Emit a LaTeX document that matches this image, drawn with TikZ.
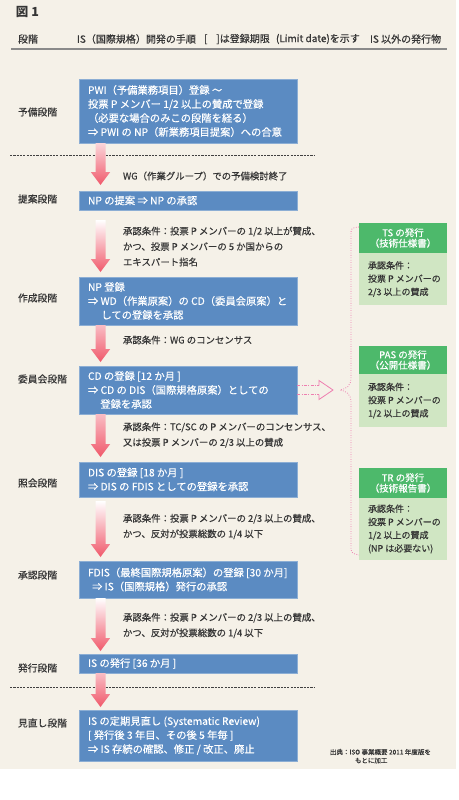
\documentclass[tikz,border=0pt]{standalone}
\usepackage{fontspec}
\setmainfont{Noto Sans CJK JP}[UprightFeatures={FakeBold=0.35}]
\usetikzlibrary{calc}
\definecolor{beige}{HTML}{F5F1E8}
\definecolor{boxblue}{HTML}{5B8BC2}
\definecolor{ghead}{HTML}{4DB96B}
\definecolor{gbody}{HTML}{D0E6C3}
\definecolor{arrred}{HTML}{F0596B}
\definecolor{pinkline}{HTML}{EE7FB0}
\definecolor{txt}{HTML}{353535}
\definecolor{sepgray}{HTML}{8A8A8A}
\newcommand\FatArr[3]{%
  \shade[top color=#3, bottom color=arrred]
    let \p1=#1, \p2=#2 in
    (\x1-5pt,\y1) -- (\x1+5pt,\y1) -- (\x1+5pt,\y2+13pt) -- (\x1+9.7pt,\y2+13pt)
    -- (\x1,\y2) -- (\x1-9.7pt,\y2+13pt) -- (\x1-5pt,\y2+13pt) -- cycle;}
\begin{document}
\begin{tikzpicture}[x=1pt,y=-1pt,
  every node/.style={inner sep=0pt, outer sep=0pt, text=txt},
  bluebox/.style={fill=boxblue, draw=boxblue!70!white, line width=0.5pt, minimum width=218pt, anchor=north west},
  boxtext/.style={anchor=west, align=left, text=white, font=\fontsize{10.3}{14}\selectfont},
  stagelabel/.style={anchor=west, font=\fontsize{9.8}{11}\selectfont},
  cond/.style={anchor=west, align=left, font=\fontsize{9.4}{15.5}\selectfont},
  headtext/.style={anchor=west, font=\fontsize{10}{11}\selectfont},
  ghbox/.style={fill=ghead, minimum width=88pt, anchor=north west, align=center, text=white, font=\fontsize{9.5}{10.5}\selectfont},
  gbbox/.style={fill=gbody, minimum width=88pt, anchor=north west},
  gtext/.style={anchor=west, align=left, font=\fontsize{9}{13.2}\selectfont},
  sepline/.style={draw=black!75, line width=0.7pt, dash pattern=on 2.2pt off 1.1pt},
  pinkdd/.style={draw=pinkline, line width=0.8pt, dash pattern=on 3pt off 1.5pt on 0.8pt off 1.5pt},
  pinkdot/.style={draw=pinkline, line width=0.8pt, dash pattern=on 0.8pt off 1.6pt}
]
\useasboundingbox (0,0) rectangle (458,800);
\fill[white] (0,0) rectangle (458,800);
\fill[beige] (0,0) rectangle (456,769);

% title and header
\node[anchor=west, font=\bfseries\fontsize{12.5}{13}\selectfont] (title) at (16,12) {図 1};
\node[headtext] (hd1) at (18,39) {段階};
\node[headtext] (hd2) at (77,39) {IS（国際規格）開発の手順};
\node[headtext] (hd3) at (204,39) {[\hspace{0.9em}]は登録期限};
\node[headtext] (hd3b) at (276,39) {(Limit date)を示す};
\node[headtext] (hd4) at (370,39) {IS 以外の発行物};
\draw[sepgray, line width=1.4pt] (11,49) -- (447,49);

% separators
\draw[sepline] (10,155) -- (315,155);
\draw[sepline] (10,687) -- (315,687);

% blue boxes
\node[bluebox, minimum height=64pt] (b1) at (79,79) {};
\node[bluebox, minimum height=19pt] (b2) at (79,191) {};
\node[bluebox, minimum height=48pt] (b3) at (79,277) {};
\node[bluebox, minimum height=48pt] (b4) at (79,366) {};
\node[bluebox, minimum height=35pt] (b5) at (79,462) {};
\node[bluebox, minimum height=37pt] (b6) at (79,561) {};
\node[bluebox, minimum height=19pt] (b7) at (79,654) {};
\node[bluebox, minimum height=51pt] (b8) at (79,710) {};

\node[boxtext] (t1) at ($(b1.west)+(9,0)$) {PWI（予備業務項目）登録 ～\\投票 P メンバー 1/2 以上の賛成で登録\\（必要な場合のみこの段階を経る）\\⇒ PWI の NP（新業務項目提案）への合意};
\node[boxtext] (t2) at ($(b2.west)+(9,0)$) {NP の提案 ⇒ NP の承認};
\node[boxtext] (t3) at ($(b3.west)+(9,0)$) {NP 登録\\⇒ WD（作業原案）の CD（委員会原案）と\\\hspace*{1.3em}しての登録を承認};
\node[boxtext] (t4) at ($(b4.west)+(9,0)$) {CD の登録 [12 か月 ]\\⇒ CD の DIS（国際規格原案）としての\\\hspace*{1.2em}登録を承認};
\node[boxtext] (t5) at ($(b5.west)+(9,0)$) {DIS の登録 [18 か月 ]\\⇒ DIS の FDIS としての登録を承認};
\node[boxtext] (t6) at ($(b6.west)+(9,0)$) {FDIS（最終国際規格原案）の登録 [30 か月]\\\hspace*{0.4em}⇒ IS（国際規格）発行の承認};
\node[boxtext] (t7) at ($(b7.west)+(9,0)$) {IS の発行 [36 か月 ]};
\node[boxtext] (t8) at ($(b8.west)+(9,0)$) {IS の定期見直し (Systematic Review)\\{}[ 発行後 3 年目、その後 5 年毎 ]\\⇒ IS 存続の確認、修正 / 改正、廃止};

% stage labels
\node[stagelabel] (s1) at (18,112) {予備段階};
\node[stagelabel] (s2) at (18,199) {提案段階};
\node[stagelabel] (s3) at (18,298) {作成段階};
\node[stagelabel] (s4) at (18,379) {委員会段階};
\node[stagelabel] (s5) at (18,483) {照会段階};
\node[stagelabel] (s6) at (18,575) {承認段階};
\node[stagelabel] (s7) at (18,668) {発行段階};
\node[stagelabel] (s8) at (18,723) {見直し段階};

% arrows
\coordinate (ax) at (100.5,0);
\FatArr{(b1.south -| ax)}{($(b2.north -| ax)+(0,-6)$)}{arrred!25!white}
\FatArr{($(b2.south -| ax)+(0,10)$)}{($(b3.north -| ax)+(0,-5)$)}{white}
\FatArr{(b3.south -| ax)}{($(b4.north -| ax)+(0,-4)$)}{arrred!40!white}
\FatArr{(b4.south -| ax)}{($(b5.north -| ax)+(0,-5)$)}{arrred!40!white}
\FatArr{($(b5.south -| ax)+(0,4)$)}{($(b6.north -| ax)+(0,-4)$)}{white}
\FatArr{(b6.south -| ax)}{($(b7.north -| ax)+(0,-3)$)}{white}
\FatArr{(b7.south -| ax)}{($(b8.north -| ax)+(0,-3)$)}{arrred!40!white}

% conditions
\node[cond] (c1) at (123,176) {WG（作業グループ）での予備検討終了};
\node[cond] (c2) at (123,246.5) {承認条件：投票 P メンバーの 1/2 以上が賛成、\\かつ、投票 P メンバーの 5 か国からの\\エキスパート指名};
\node[cond] (c3) at (123,340) {承認条件：WG のコンセンサス};
\node[cond] (c4) at (123,435) {承認条件：TC/SC の P メンバーのコンセンサス、\\又は投票 P メンバーの 2/3 以上の賛成};
\node[cond] (c5) at (123,526.5) {承認条件：投票 P メンバーの 2/3 以上の賛成、\\かつ、反対が投票総数の 1/4 以下};
\node[cond] (c6) at (123,625.5) {承認条件：投票 P メンバーの 2/3 以上の賛成、\\かつ、反対が投票総数の 1/4 以下};

% green boxes
\node[ghbox, minimum height=30pt] (tsh) at (359,223) {TS の発行\\（技術仕様書）};
\node[gbbox, minimum height=52pt] (tsb) at (359,253) {};
\node[gtext] (tst) at ($(tsb.west)+(9,0)$) {承認条件：\\投票 P メンバーの\\2/3 以上の賛成};
\node[ghbox, minimum height=28pt] (pash) at (359,346) {PAS の発行\\（公開仕様書）};
\node[gbbox, minimum height=53pt] (pasb) at (359,374) {};
\node[gtext] (past) at ($(pasb.west)+(9,0)$) {承認条件：\\投票 P メンバーの\\1/2 以上の賛成};
\node[ghbox, minimum height=30pt] (trh) at (359,468) {TR の発行\\（技術報告書）};
\node[gbbox, minimum height=62pt] (trb) at (359,498) {};
\node[gtext] (trt) at ($(trb.west)+(9,0)$) {承認条件：\\投票 P メンバーの\\1/2 以上の賛成\\(NP は必要ない)};

% pink hollow arrow and brace
\coordinate (ht) at (333,390);
\coordinate (bt) at (340,390);
\draw[pinkdd] ($(b4.east)+(0,-4.5)$) -- ($(ht)+(-14,-4.5)$);
\draw[pinkdd] ($(b4.east)+(0,4.5)$) -- ($(ht)+(-14,4.5)$);
\draw[pinkline, line width=0.8pt, line join=miter] ($(ht)+(-14,-4.5)$) -- ($(ht)+(-14,-9.5)$) -- (ht) -- ($(ht)+(-14,9.5)$) -- ($(ht)+(-14,4.5)$);
\draw[pinkdot] ($(tsh.north west)+(0,4)$) .. controls (351,228) .. (351,236) -- (351,378)
  .. controls (351,386) and (346,389) .. (bt)
  .. controls (346,391) and (351,394) .. (351,402) -- (351,546)
  .. controls (351,553) .. ($(trb.south west)+(0,-5)$);

% footnote
\node[anchor=west, font=\fontsize{6.5}{8}\selectfont] (f1) at (330,752) {出典：ISO 事業概要 2011 年度版を};
\node[anchor=west, font=\fontsize{6.5}{8}\selectfont] (f2) at (355,760.5) {もとに加工};
\end{tikzpicture}
\end{document}
